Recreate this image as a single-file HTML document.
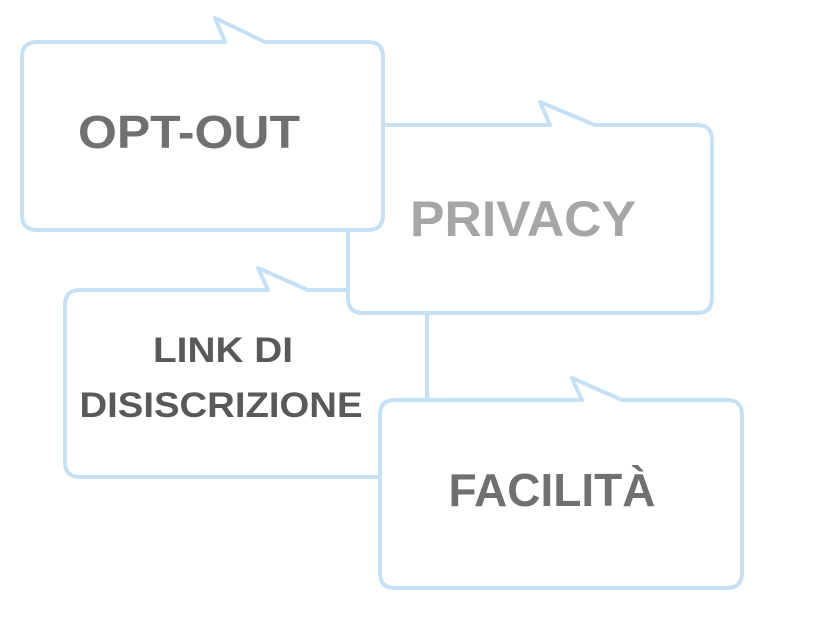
<!DOCTYPE html>
<html><head><meta charset="utf-8"><style>body{margin:0;background:#fff}svg{display:block}</style></head>
<body>
<svg width="817" height="630" viewBox="0 0 817 630" xmlns="http://www.w3.org/2000/svg" font-family="Liberation Sans, sans-serif" font-weight="bold" text-anchor="middle">
<g fill="#fff" stroke="#c6e1f6" stroke-width="4" stroke-linejoin="round">
<path d="M80,290 L268,290 L258,268 L308,290 L412,290 Q427,290 427,305 L427,462 Q427,477 412,477 L80,477 Q65,477 65,462 L65,305 Q65,290 80,290 Z"/>
<path d="M363,125 L550,125 L540,102 L595,125 L697,125 Q712,125 712,140 L712,298 Q712,313 697,313 L363,313 Q348,313 348,298 L348,140 Q348,125 363,125 Z"/>
<path d="M37,42 L225,42 L215,18 L265,42 L368,42 Q383,42 383,57 L383,215 Q383,230 368,230 L37,230 Q22,230 22,215 L22,57 Q22,42 37,42 Z"/>
<path d="M395,400 L582,400 L572,378 L622,400 L727,400 Q742,400 742,415 L742,573 Q742,588 727,588 L395,588 Q380,588 380,573 L380,415 Q380,400 395,400 Z"/>
</g>
<text x="189" y="148" font-size="46" fill="#707070" textLength="222" lengthAdjust="spacingAndGlyphs">OPT-OUT</text>
<text x="523" y="236" font-size="50" fill="#a6a6a6" textLength="226" lengthAdjust="spacingAndGlyphs">PRIVACY</text>
<text x="223" y="362" font-size="35" fill="#595959" textLength="140" lengthAdjust="spacingAndGlyphs">LINK DI</text>
<text x="221" y="417" font-size="35" fill="#595959" textLength="283" lengthAdjust="spacingAndGlyphs">DISISCRIZIONE</text>
<text x="552" y="506" font-size="46" fill="#707070">FACILITÀ</text>
</svg>
</body></html>
